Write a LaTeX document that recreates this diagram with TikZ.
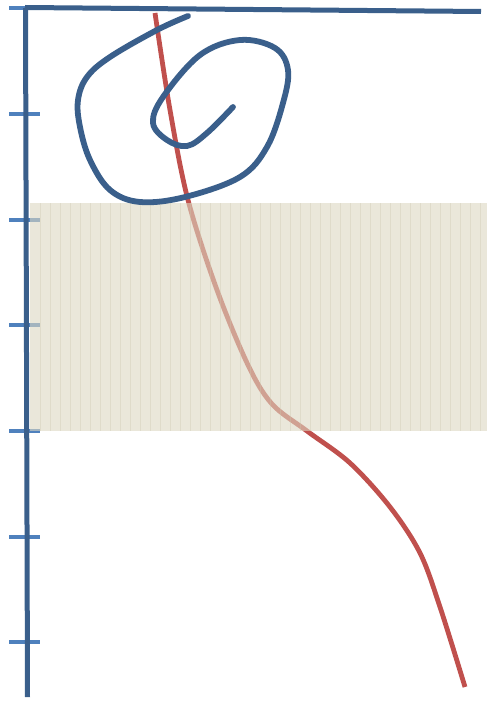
\documentclass[tikz,border=0pt]{standalone}
\usepackage{tikz}
\usetikzlibrary{positioning}

\definecolor{axisblue}{RGB}{58,95,139}
\definecolor{tickblue}{RGB}{79,129,189}
\definecolor{curvered}{RGB}{192,80,77}
\definecolor{bandfill}{RGB}{220,215,193}
\definecolor{bandline}{RGB}{205,200,172}

\begin{document}
\begin{tikzpicture}[x=1pt,y=-1pt,line cap=butt,
    axis/.style={axisblue,line width=5pt},
    tick/.style={tickblue,line width=4.5pt},
    trace/.style={curvered,line width=4.8pt},
    loop/.style={axisblue,line width=5.8pt,line cap=round,line join=round}]

\useasboundingbox (0,0) rectangle (487,703);

% Red curve
\draw[trace] plot[smooth,tension=0.55] coordinates {
(155,13) (170,110) (188,200) (217,290) (248,365) (272,404)
(307,431) (350,463) (390,507) (420,553) (440,607) (465,687)};

% Ticks
\foreach \y in {8,114,220,325,431,537,642}{
    \draw[tick] (9,\y) -- (40,\y);
}

% Band
\fill[bandfill,fill opacity=0.6] (30,203) rectangle (487,431);
\foreach \x in {40,50,...,480}{
    \draw[bandline,opacity=0.35,line width=0.6pt] (\x,203) -- (\x,431);
}

% Axes
\draw[axis] (25.5,8) -- (27.5,697);
\draw[axis] (25,7.5) -- (481,11.5);

% Spiral
\draw[loop] plot[smooth,tension=0.6] coordinates {
(188,16) (157,30) (110,57) (87,77) (78,100) (80,127) (90,160)
(110,190) (140,202) (185,197) (240,177) (267,147) (283,103)
(288,70) (275,48) (240,40) (200,55) (163,97) (153,123)
(167,140) (187,146) (207,133) (233,107)};

\end{tikzpicture}
\end{document}
